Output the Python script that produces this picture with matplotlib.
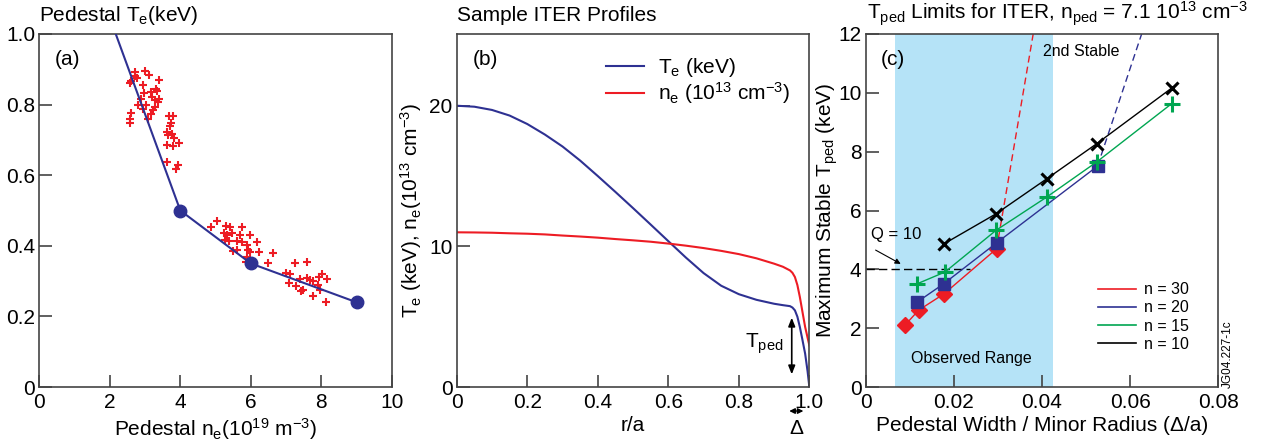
import matplotlib
matplotlib.use('Agg')
import matplotlib.pyplot as plt
from matplotlib.lines import Line2D

plt.rcParams['font.family'] = ['Liberation Sans', 'DejaVu Sans']
plt.rcParams['mathtext.default'] = 'regular'
plt.rcParams['font.size'] = 15

NAVY = '#2e3192'
RED = '#ed1c24'
GREEN = '#00a651'
SHADE = '#b5e3f7'
SPINE = '#444444'

# (a) pedestal data
ne_scatter = [2.59, 2.58, 2.72, 2.71, 2.76, 2.99, 3.10, 3.40, 2.95, 3.31, 3.34, 3.16, 2.97, 2.89,
              3.19, 3.29, 3.41, 3.36, 2.79, 3.04, 2.93, 3.28, 3.22, 3.17, 2.60, 2.58, 2.56, 3.08,
              3.69, 3.78, 3.75, 3.72, 3.61, 3.64, 3.76, 3.81, 3.61, 3.80, 3.97, 3.61, 3.94, 3.87,
              5.03, 4.86, 5.31, 5.41, 5.74, 5.24, 5.33, 5.47, 5.69, 5.97, 5.27, 5.39, 5.60, 5.76,
              6.18, 5.88, 5.50, 5.62, 5.93, 5.97, 6.24, 6.62, 5.88, 5.86, 6.49, 7.25, 7.60, 6.99,
              7.11, 7.39, 7.09, 7.28, 7.60, 7.67, 7.77, 7.94, 8.03, 8.15, 7.91, 7.96, 7.42, 7.49,
              7.77, 8.13]
te_scatter = [0.866, 0.862, 0.892, 0.880, 0.876, 0.894, 0.884, 0.869, 0.856, 0.844, 0.838, 0.836, 0.833, 0.817,
              0.822, 0.812, 0.816, 0.807, 0.800, 0.800, 0.788, 0.793, 0.784, 0.774, 0.776, 0.760, 0.747, 0.760,
              0.768, 0.768, 0.748, 0.738, 0.722, 0.713, 0.716, 0.705, 0.685, 0.683, 0.691, 0.637, 0.630, 0.618,
              0.470, 0.453, 0.456, 0.452, 0.453, 0.436, 0.430, 0.435, 0.430, 0.432, 0.416, 0.414, 0.414, 0.411,
              0.411, 0.401, 0.384, 0.387, 0.387, 0.382, 0.382, 0.381, 0.368, 0.354, 0.350, 0.351, 0.354, 0.323,
              0.321, 0.305, 0.295, 0.285, 0.310, 0.302, 0.300, 0.312, 0.321, 0.307, 0.288, 0.276, 0.271, 0.274,
              0.257, 0.240]
ne_fit = [2.17, 4.0, 6.0, 9.0]
te_fit = [1.0, 0.5, 0.35, 0.24]

# (b) profiles
r_prof = [0, 0.05, 0.10, 0.15, 0.20, 0.25, 0.30, 0.35, 0.40, 0.45, 0.50, 0.55, 0.60, 0.65,
          0.70, 0.75, 0.80, 0.85, 0.90, 0.925, 0.945, 0.952, 0.959, 0.966, 0.973, 0.98, 0.988,
          0.995, 1.0]
te_prof = [20.0, 19.93, 19.7, 19.3, 18.7, 17.95, 17.1, 16.1, 15.0, 13.87, 12.72, 11.55, 10.37, 9.2,
           8.1, 7.2, 6.6, 6.2, 5.92, 5.82, 5.75, 5.65, 5.45, 5.0, 4.27, 3.4, 2.37,
           1.1, 0.0]
ne_prof = [11.0, 10.99, 10.97, 10.93, 10.9, 10.85, 10.77, 10.7, 10.62, 10.52, 10.43, 10.33, 10.2, 10.05,
           9.88, 9.68, 9.45, 9.15, 8.77, 8.55, 8.29, 8.12, 7.82, 7.25, 6.4, 5.4, 4.27,
           3.5, 2.96]

# (c) stability limits
w30 = [0.0089, 0.0120, 0.0178, 0.0297]
t30 = [2.10, 2.61, 3.17, 4.70]
w20 = [0.0117, 0.0177, 0.0297, 0.0526]
t20 = [2.89, 3.51, 4.90, 7.51]
w15 = [0.0117, 0.0180, 0.0296, 0.0411, 0.0524, 0.0694]
t15 = [3.51, 3.91, 5.33, 6.46, 7.65, 9.63]
w10 = [0.0178, 0.0296, 0.0411, 0.0524, 0.0694]
t10 = [4.87, 5.89, 7.08, 8.27, 10.16]
w30_2nd = [0.0297, 0.0380]
t30_2nd = [4.70, 12.0]
w20_2nd = [0.0526, 0.0626]
t20_2nd = [7.51, 12.0]
observed = [0.0067, 0.0424]
q10 = 4.0

fig = plt.figure(figsize=(12.74, 4.45), dpi=100)
axa = fig.add_axes([0.0308, 0.1303, 0.2768, 0.7933])
axb = fig.add_axes([0.3585, 0.1303, 0.2768, 0.7933])
axc = fig.add_axes([0.6795, 0.1303, 0.2768, 0.7933])

for ax in (axa, axb, axc):
    for s in ax.spines.values():
        s.set_color(SPINE)
        s.set_linewidth(1.2)
    ax.tick_params(direction='in', length=9, width=1.2, color=SPINE, top=False, right=False,
                   labelsize=15, pad=4)
    ax.tick_params(axis='y', pad=3)

# panel a
axa.plot(ne_scatter, te_scatter, '+', color=RED, ms=6, mew=1.5, zorder=2)
axa.plot(ne_fit, te_fit, '-', color=NAVY, lw=1.5, zorder=3)
axa.plot(ne_fit[1:], te_fit[1:], 'o', color=NAVY, ms=9, zorder=4)
axa.set_xlim(0, 10)
axa.set_ylim(0, 1.0)
axa.set_xticks([0, 2, 4, 6, 8, 10])
axa.set_yticks([0, 0.2, 0.4, 0.6, 0.8, 1.0])
axa.set_yticklabels(['0', '0.2', '0.4', '0.6', '0.8', '1.0'])
axa.set_xlabel('Pedestal n$_e$(10$^{19}$ m$^{-3}$)', labelpad=3)
axa.text(0.0, 1.053, 'Pedestal T$_e$(keV)', transform=axa.transAxes, ha='left', va='center')
axa.text(0.081, 0.928, '(a)', transform=axa.transAxes, ha='center', va='center')

# panel b
axb.plot(r_prof, te_prof, color=NAVY, lw=1.5, label='T$_e$ (keV)')
axb.plot(r_prof, ne_prof, color=RED, lw=1.5, label='n$_e$ (10$^{13}$ cm$^{-3}$)')
axb.set_xlim(0, 1.0)
axb.set_ylim(0, 25.1)
axb.set_xticks([0, 0.2, 0.4, 0.6, 0.8, 1.0])
axb.set_xticklabels(['0', '0.2', '0.4', '0.6', '0.8', '1.0'])
axb.set_yticks([0, 10, 20])
axb.set_xlabel('r/a', labelpad=3)
axb.set_ylabel('T$_e$ (keV), n$_e$(10$^{13}$ cm$^{-3}$)', labelpad=4)
axb.text(0.0, 1.053, 'Sample ITER Profiles', transform=axb.transAxes, ha='left', va='center')
axb.text(0.080, 0.928, '(b)', transform=axb.transAxes, ha='center', va='center')
axb.legend(loc='upper left', bbox_to_anchor=(0.40, 0.96), frameon=False, handlelength=1.8,
           handletextpad=0.7, labelspacing=0.05, fontsize=15, borderaxespad=0)
axb.annotate('', xy=(0.95, 0.9), xytext=(0.95, 4.93),
             arrowprops=dict(arrowstyle='<|-|>,head_length=0.5,head_width=0.2', color='black',
                             lw=1.2, mutation_scale=10, shrinkA=0, shrinkB=0))
axb.text(0.926, 3.08, 'T$_{ped}$', ha='right', va='center', fontsize=15)
axb.annotate('', xy=(0.943, -0.068), xytext=(0.983, -0.068), xycoords=('data', 'axes fraction'),
             textcoords=('data', 'axes fraction'),
             arrowprops=dict(arrowstyle='<|-|>,head_length=0.4,head_width=0.2', color='black',
                             lw=1.0, mutation_scale=8, shrinkA=0, shrinkB=0),
             annotation_clip=False)
axb.text(0.962, -0.118, 'Δ', transform=axb.get_xaxis_transform(), ha='center', va='center',
         fontsize=15)

# panel c
axc.axvspan(observed[0], observed[1], color=SHADE, lw=0, zorder=0)
axc.plot(w30_2nd, t30_2nd, '--', color=RED, lw=1.0, dashes=(5, 3), zorder=2)
axc.plot(w20_2nd, t20_2nd, '--', color=NAVY, lw=1.0, dashes=(5, 3), zorder=2)
axc.plot(w30, t30, '-', color=RED, lw=1.0, marker='D', ms=8, zorder=3)
axc.plot(w20, t20, '-', color=NAVY, lw=1.0, marker='s', ms=8, zorder=4)
axc.plot(w15, t15, '-', color=GREEN, lw=1.0, marker='+', ms=11, mew=2.2, zorder=5)
axc.plot(w10, t10, '-', color='black', lw=1.0, marker='x', ms=9, mew=2.2, zorder=6)
axc.plot([0, 0.0237], [q10, q10], '--', color='black', lw=1.0, dashes=(6, 3), zorder=2)
axc.annotate('', xy=(0.0085, 4.14), xytext=(0.0017, 4.70),
             arrowprops=dict(arrowstyle='-|>', color='black', lw=0.8, mutation_scale=8))
axc.text(0.0069, 5.19, 'Q = 10', ha='center', va='center', fontsize=12)
axc.text(0.0490, 11.39, '2nd Stable', ha='center', va='center', fontsize=11.5)
axc.text(0.0239, 0.96, 'Observed Range', ha='center', va='center', fontsize=11.5)
axc.text(0.078, 0.928, '(c)', transform=axc.transAxes, ha='center', va='center')
axc.set_xlim(0, 0.08)
axc.set_ylim(0, 12)
axc.set_xticks([0, 0.02, 0.04, 0.06, 0.08])
axc.set_xticklabels(['0', '0.02', '0.04', '0.06', '0.08'])
axc.set_yticks([0, 2, 4, 6, 8, 10, 12])
axc.set_xlabel('Pedestal Width / Minor Radius (Δ/a)', labelpad=3)
axc.set_ylabel('Maximum Stable T$_{ped}$ (keV)', labelpad=-1)
axc.text(0.005, 1.058, 'T$_{ped}$ Limits for ITER, n$_{ped}$ = 7.1 10$^{13}$ cm$^{-3}$',
         transform=axc.transAxes, ha='left', va='center')
handles = [Line2D([], [], color=RED, lw=1.2), Line2D([], [], color=NAVY, lw=1.2),
           Line2D([], [], color=GREEN, lw=1.2), Line2D([], [], color='black', lw=1.2)]
axc.legend(handles, ['n = 30', 'n = 20', 'n = 15', 'n = 10'], loc='upper left',
           bbox_to_anchor=(0.64, 0.315), frameon=False, handlelength=2.4, handletextpad=0.5,
           labelspacing=0.2, fontsize=11.5, borderaxespad=0)
fig.text(0.9635, 0.205, 'JG04.227-1c', rotation=90, ha='center', va='center', fontsize=8.5)

fig.savefig('out.png', dpi=100)
